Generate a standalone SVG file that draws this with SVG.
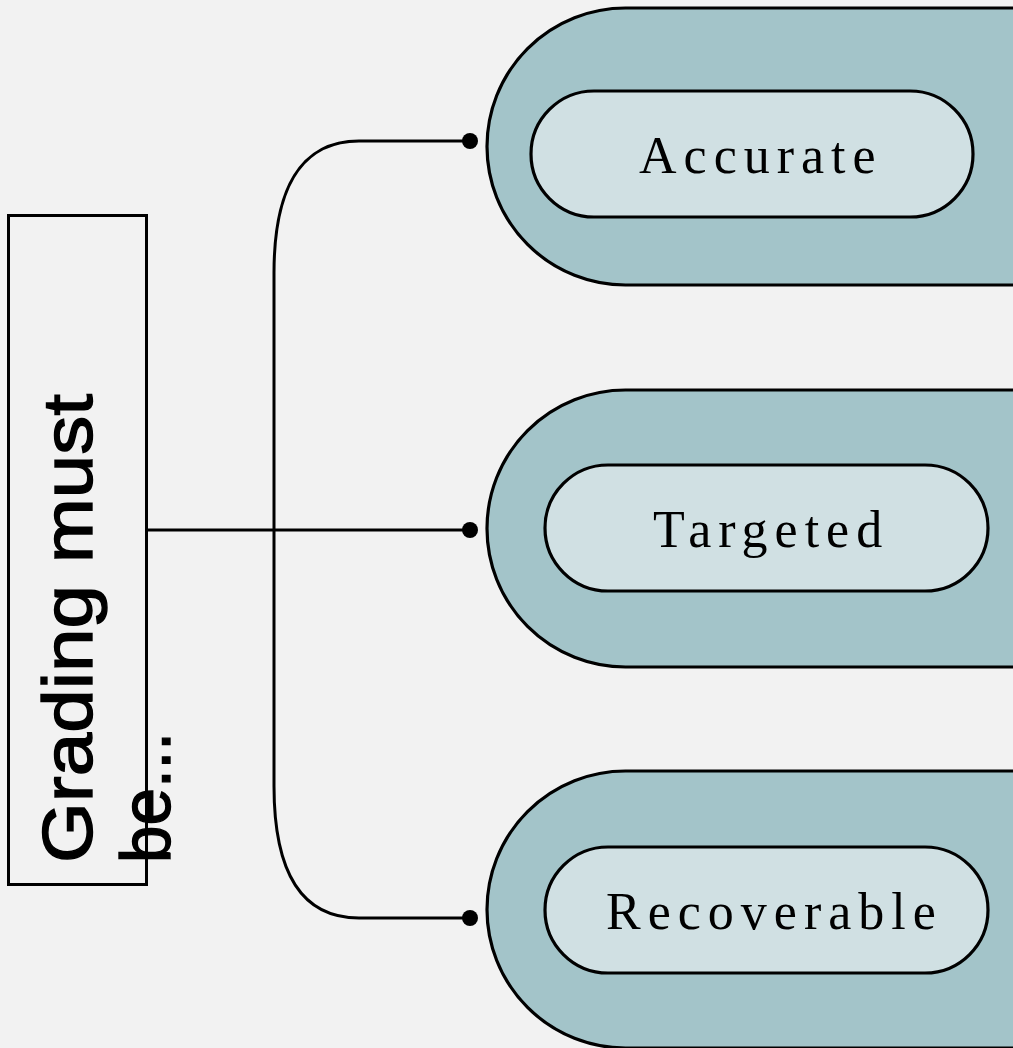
<svg xmlns="http://www.w3.org/2000/svg" width="1013" height="1048" viewBox="0 0 1013 1048">
  <style>
    .outer { fill: #a3c4c9; stroke: #000; stroke-width: 3.2; }
    .inner { fill: #d0e0e3; stroke: #000; stroke-width: 3.2; }
    .lbl { font-family: "Liberation Serif", "Times New Roman", serif; font-size: 52px; letter-spacing: 7px; fill: #000; }
    .title { font-family: "Liberation Sans", Arial, sans-serif; font-size: 70px; fill: #000; stroke: #000; stroke-width: 1.4; }
    .conn { fill: none; stroke: #000; stroke-width: 3; }
  </style>
  <rect x="0" y="0" width="1013" height="1048" fill="#f2f2f2"/>
  <g id="connectors">
    <path class="conn" d="M147,530 H470"/>
    <path class="conn" d="M470,141 H359 C300,141 274,190 274,273 V786 C274,870 300,918 359,918 H470"/>
    <circle cx="470" cy="141" r="8" fill="#000"/>
    <circle cx="470" cy="530" r="8" fill="#000"/>
    <circle cx="470" cy="918" r="8" fill="#000"/>
  </g>
  <g id="node-root">
    <rect x="8.5" y="215.5" width="138" height="669" fill="none" stroke="#000" stroke-width="3"/>
    <g transform="translate(92,863) rotate(-90)">
      <text class="title" x="0" y="0" textLength="469" lengthAdjust="spacingAndGlyphs">Grading must</text>
      <text class="title" x="0" y="78" textLength="131" lengthAdjust="spacingAndGlyphs">be...</text>
    </g>
  </g>
  <g id="node-accurate">
    <rect class="outer" x="487" y="8" width="700" height="277" rx="138.5"/>
    <rect class="inner" x="531" y="91" width="442" height="126" rx="63"/>
    <text class="lbl" x="639" y="173">Accurate</text>
  </g>
  <g id="node-targeted">
    <rect class="outer" x="487" y="390" width="700" height="277" rx="138.5"/>
    <rect class="inner" x="545" y="465" width="443" height="126" rx="63"/>
    <text class="lbl" x="653" y="547">Targeted</text>
  </g>
  <g id="node-recoverable">
    <rect class="outer" x="487" y="771" width="700" height="277" rx="138.5"/>
    <rect class="inner" x="545" y="847" width="443" height="126" rx="63"/>
    <text class="lbl" x="606" y="929">Recoverable</text>
  </g>
</svg>
